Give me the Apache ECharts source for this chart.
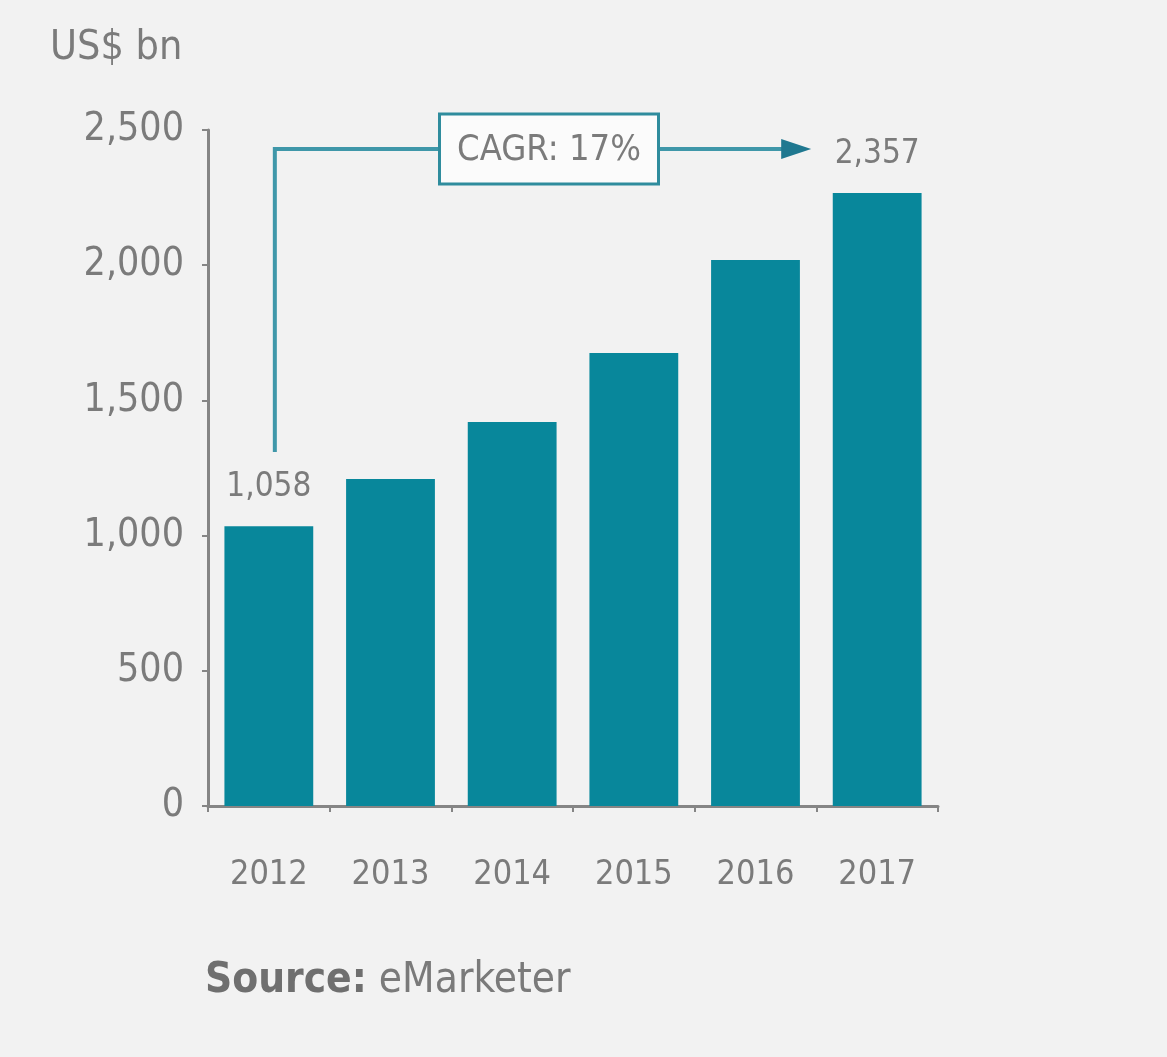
<!DOCTYPE html>
<html>
<head>
<meta charset="utf-8">
<script src="https://cdn.jsdelivr.net/npm/echarts@6/dist/echarts.min.js"></script>
<style>
html,body{margin:0;padding:0;background:#f2f2f2;}
#c{width:1167px;height:1057px;}
</style>
</head>
<body>
<div id="c"></div>
<script>
const categories = ['2012', '2013', '2014', '2015', '2016', '2017'];
const values = [1035, 1209, 1420, 1675, 2019, 2267];
const valueLabels = ['1,058', '', '', '', '', '2,357'];
const yTicks = [0, 500, 1000, 1500, 2000, 2500];
const unitLabel = 'US$ bn';
const cagrText = 'CAGR: 17%';
const sourceBold = 'Source:';
const sourceText = ' eMarketer';

const FONT = '"Liberation Sans Narrow", "DejaVu Sans Condensed", "Roboto", sans-serif';
const GREY = '#7b7b7b';
const TEAL = '#08879b';

const chart = echarts.init(document.getElementById('c'), null, {renderer: 'canvas'});
const option = {
  backgroundColor: '#f2f2f2',
  animation: false,
  grid: {left: 208, right: 229, top: 130, bottom: 251, containLabel: false},
  xAxis: {
    type: 'category',
    data: categories,
    axisLine: {show: true, lineStyle: {color: '#858585', width: 3}},
    axisTick: {show: true, alignWithLabel: false, length: 6, lineStyle: {color: '#858585', width: 2}},
    axisLabel: {color: GREY, fontFamily: FONT, fontSize: 34, margin: 52}
  },
  yAxis: {
    type: 'value',
    min: yTicks[0],
    max: yTicks[yTicks.length - 1],
    interval: 500,
    splitLine: {show: false},
    axisLine: {show: true, lineStyle: {color: '#858585', width: 3}},
    axisTick: {show: true, length: 6, lineStyle: {color: '#858585', width: 2}},
    axisLabel: {
      color: GREY, fontFamily: FONT, fontSize: 39, margin: 24,
      formatter: v => v.toLocaleString('en-US')
    }
  },
  series: [{
    type: 'bar',
    data: values,
    barWidth: '73%',
    itemStyle: {color: TEAL},
    label: {
      show: true,
      position: 'top',
      distance: 22,
      color: GREY,
      fontFamily: FONT,
      fontSize: 33,
      formatter: p => valueLabels[p.dataIndex]
    }
  }]
};
chart.setOption(option);

function drawAnnotations() {
  const p0 = chart.convertToPixel({xAxisIndex: 0, yAxisIndex: 0}, [categories[0], 1309]);
  const pTop = chart.convertToPixel({xAxisIndex: 0, yAxisIndex: 0}, [categories[0], 2430]);
  const pEnd = chart.convertToPixel({xAxisIndex: 0, yAxisIndex: 0}, [categories[5], 2430]);
  const x0 = p0[0] + 6;
  const yTop = pTop[1];
  const xEnd = pEnd[0] - 66;
  const boxCx = (x0 + xEnd) / 2 + 6;
  const boxW = 219, boxH = 70;
  chart.setOption({
    graphic: [
      {
        type: 'polyline',
        shape: {points: [[x0, p0[1]], [x0, yTop], [xEnd - 26, yTop]]},
        style: {stroke: '#3f97a9', lineWidth: 4, fill: null},
        z: 10
      },
      {
        type: 'polygon',
        shape: {points: [[xEnd - 30, yTop - 10], [xEnd, yTop], [xEnd - 30, yTop + 10]]},
        style: {fill: '#1f7890'},
        z: 11
      },
      {
        type: 'rect',
        shape: {x: boxCx - boxW / 2, y: yTop - boxH / 2, width: boxW, height: boxH},
        style: {fill: '#fbfbfb', stroke: '#2f8c9d', lineWidth: 3},
        z: 12
      },
      {
        type: 'text',
        x: boxCx, y: yTop + 2,
        style: {text: cagrText, fill: GREY, font: '36px ' + FONT, align: 'center', verticalAlign: 'middle'},
        z: 13
      },
      {
        type: 'text',
        x: 50, y: 48,
        style: {text: unitLabel, fill: GREY, font: '41px ' + FONT, align: 'left', verticalAlign: 'middle'},
        z: 13
      },
      {
        type: 'text',
        x: 205, y: 981,
        style: {
          text: '{b|' + sourceBold + '}{n|' + sourceText + '}',
          verticalAlign: 'middle', align: 'left',
          rich: {
            b: {fontFamily: FONT, fontSize: 42, fontWeight: 'bold', fill: '#6f6f6f'},
            n: {fontFamily: FONT, fontSize: 42, fill: '#7a7a7a'}
          }
        },
        z: 13
      }
    ]
  });
}
drawAnnotations();
</script>
</body>
</html>
